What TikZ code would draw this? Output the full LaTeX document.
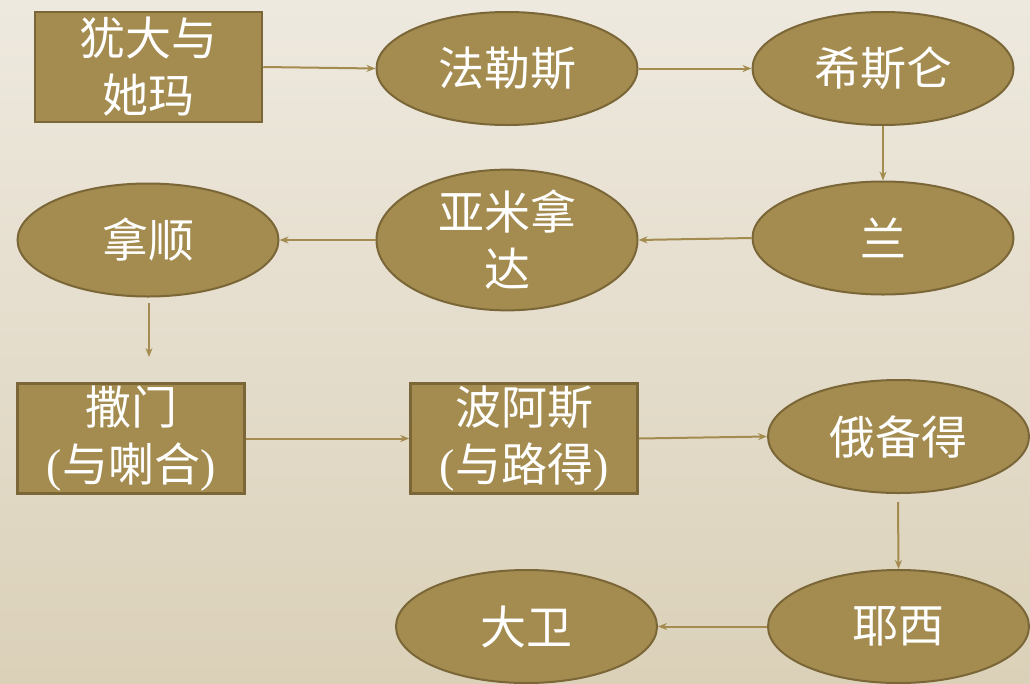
\documentclass[tikz,border=0pt]{standalone}
\usepackage{fontspec}
\setmainfont{Liberation Serif}
\newfontfamily\cjk{Noto Sans CJK SC}
\usetikzlibrary{shapes.geometric,arrows.meta}
\definecolor{bgtop}{HTML}{EEE9DF}
\definecolor{bgbot}{HTML}{DBD1B9}
\definecolor{fillc}{HTML}{A48C50}
\definecolor{edgec}{HTML}{7A6637}
\definecolor{arrc}{HTML}{A48C50}
\tikzset{
  base/.style={fill=fillc, draw=edgec, text=white, align=center, inner sep=0pt,
    font=\cjk\fontsize{46}{57}\selectfont},
  rectbox/.style={base, rectangle, line width=2.5pt, minimum width=227pt, minimum height=110pt},
  ellbox/.style={base, ellipse, line width=2pt, minimum width=261pt, minimum height=113pt},
  conn/.style={draw=arrc, line width=2pt, -{Stealth[length=9pt,width=7pt]}}
}
\begin{document}
\begin{tikzpicture}[x=1pt,y=-1pt]
\shade[top color=bgtop, bottom color=bgbot] (0,0) rectangle (1030,683);
\useasboundingbox (0,0) rectangle (1030,683);
\node[rectbox] (judah) at (148.5,67) {犹大与\\她玛};
\node[ellbox] (perez) at (507,68.5) {法勒斯};
\node[ellbox] (hezron) at (883,68.5) {希斯仑};
\node[ellbox] (ram) at (883,238) {兰};
\node[ellbox] (amm) at (507,240) {亚米拿\\达};
\node[ellbox] (nahshon) at (148,240) {拿顺};
\node[rectbox] (salmon) at (131,438.5) {撒门\\{\rmfamily(}与喇合{\rmfamily)}};
\node[rectbox] (boaz) at (524,438.5) {波阿斯\\{\rmfamily(}与路得{\rmfamily)}};
\node[ellbox] (obed) at (898.5,436.5) {俄备得};
\node[ellbox] (jesse) at (898.5,626.5) {耶西};
\node[ellbox] (david) at (526.5,626.5) {大卫};
\coordinate (n1) at (149,303);
\coordinate (n2) at (149,357);
\coordinate (o1) at (898,502);
\draw[conn] (judah.east) -- (perez.west);
\draw[conn] (perez.east) -- (hezron.west);
\draw[conn] (hezron.south) -- (ram.north);
\draw[conn] (ram.west) -- (amm.east);
\draw[conn] (amm.west) -- (nahshon.east);
\draw[conn] (n1) -- (n2);
\draw[conn] (salmon.east) -- (boaz.west);
\draw[conn] (boaz.east) -- (obed.west);
\draw[conn] (o1) -- (jesse.north);
\draw[conn] (jesse.west) -- (david.east);
\end{tikzpicture}
\end{document}
